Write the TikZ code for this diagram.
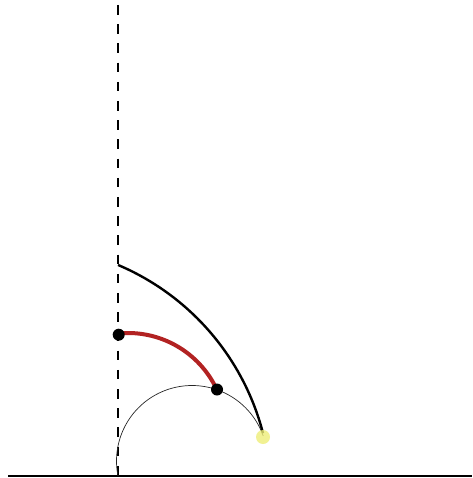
\documentclass[tikz,border=0pt]{standalone}
\definecolor{arcred}{RGB}{178,34,34}
\definecolor{paleyellow}{RGB}{238,238,120}
\begin{document}
\begin{tikzpicture}[x=1pt,y=-1pt,
  axisline/.style={line width=1.6pt},
  guide/.style={line width=1.4pt, dash pattern=on 9.6pt off 9.6pt},
  thinarc/.style={line width=0.7pt, black!85},
  bigarc/.style={line width=2.4pt},
  redarc/.style={line width=4pt, arcred},
  dot/.style={circle, fill=black, inner sep=0pt, minimum size=12pt},
  ydot/.style={circle, fill=paleyellow, fill opacity=0.8, inner sep=0pt, minimum size=14pt}]
\useasboundingbox (0,0) rectangle (472,478);
\coordinate (L) at (8,476);
\coordinate (R) at (472,476);
\coordinate (T) at (118,5);
\coordinate (B) at (118,476);
\draw[axisline] (L) -- (R);
\draw[guide] (T) -- (B);
\draw[thinarc] plot[domain=191.5:19.3, samples=90] ({192+75.5*cos(\x)}, {461-75.5*sin(\x)});
\draw[bigarc] plot[domain=67:14.5, samples=90] ({20+251*cos(\x)}, {496-251*sin(\x)});
\draw[redarc] plot[domain=95.5:25.1, samples=90] ({128+98*cos(\x)}, {431-98*sin(\x)});
\node[dot] (p) at (118.7,334.7) {};
\node[dot] (q) at (217,389.5) {};
\node[ydot] (y) at (263,437) {};
\end{tikzpicture}
\end{document}
